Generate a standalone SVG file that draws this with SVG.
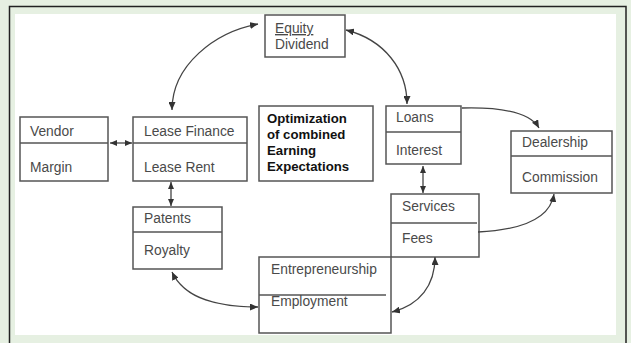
<svg xmlns="http://www.w3.org/2000/svg" width="631" height="343" viewBox="0 0 631 343">
<defs>
<style>
.box{fill:#fff;stroke:#555;stroke-width:1.5}
.div{stroke:#555;stroke-width:1.5}
.lbl{font-family:"Liberation Sans",Arial,sans-serif;font-size:13.8px;fill:#4a4a4a}
.bold{font-family:"Liberation Sans",Arial,sans-serif;font-size:13.2px;font-weight:bold;fill:#111}
.con{fill:none;stroke:#444;stroke-width:1.3}
</style>
<marker id="ah" viewBox="0 0 8 7" refX="8" refY="3.5" markerWidth="8" markerHeight="7" markerUnits="userSpaceOnUse" orient="auto-start-reverse">
<path d="M0,0 L8,3.5 L0,7 z" fill="#333"/>
</marker>
<marker id="as" viewBox="0 0 7 6" refX="7" refY="3" markerWidth="7" markerHeight="6" markerUnits="userSpaceOnUse" orient="auto-start-reverse">
<path d="M0,0 L7,3 L0,6 z" fill="#333"/>
</marker>
</defs>
<rect x="0" y="0" width="631" height="343" fill="#e6f0e2"/>
<rect x="9.5" y="6.5" width="616.5" height="350" fill="none" stroke="#222" stroke-width="1.5"/>
<rect x="15" y="14" width="601" height="321" fill="#fff"/>

<g id="equity">
<rect class="box" x="265" y="15" width="80" height="42"/>
<text class="lbl" x="275" y="33" text-decoration="underline">Equity</text>
<text class="lbl" x="275" y="49">Dividend</text>
</g>
<g id="vendor">
<rect class="box" x="20" y="117" width="88" height="64"/>
<line class="div" x1="20" y1="143" x2="108" y2="143"/>
<text class="lbl" x="30" y="136">Vendor</text>
<text class="lbl" x="30" y="172">Margin</text>
</g>
<g id="lease">
<rect class="box" x="133" y="117" width="114" height="64"/>
<line class="div" x1="133" y1="143" x2="247" y2="143"/>
<text class="lbl" x="144" y="136">Lease Finance</text>
<text class="lbl" x="144" y="172">Lease Rent</text>
</g>
<g id="optimization">
<rect class="box" x="259" y="106" width="114" height="75"/>
<text class="bold" x="267" y="123">Optimization</text>
<text class="bold" x="267" y="139">of combined</text>
<text class="bold" x="267" y="155">Earning</text>
<text class="bold" x="267" y="171">Expectations</text>
</g>
<g id="loans">
<rect class="box" x="386" y="106" width="75" height="58"/>
<line class="div" x1="386" y1="132" x2="461" y2="132"/>
<text class="lbl" x="396" y="122">Loans</text>
<text class="lbl" x="396" y="155">Interest</text>
</g>
<g id="dealership">
<rect class="box" x="511" y="131" width="101" height="62"/>
<line class="div" x1="511" y1="156" x2="612" y2="156"/>
<text class="lbl" x="522" y="147">Dealership</text>
<text class="lbl" x="522" y="182">Commission</text>
</g>
<g id="patents">
<rect class="box" x="133" y="207" width="89" height="62"/>
<line class="div" x1="133" y1="232" x2="222" y2="232"/>
<text class="lbl" x="144" y="223">Patents</text>
<text class="lbl" x="144" y="255">Royalty</text>
</g>
<g id="services">
<rect class="box" x="391" y="194" width="88" height="63"/>
<line class="div" x1="391" y1="223" x2="477" y2="223"/>
<text class="lbl" x="402" y="211">Services</text>
<text class="lbl" x="402" y="243">Fees</text>
</g>
<g id="entrepreneurship">
<rect class="box" x="259" y="257" width="132" height="76"/>
<line class="div" x1="259" y1="295" x2="386" y2="295"/>
<text class="lbl" x="271" y="274">Entrepreneurship</text>
<text class="lbl" x="271" y="306">Employment</text>
</g>

<g id="connectors">
<path class="con" d="M258,24 C215,32 172,65 172,110" marker-start="url(#ah)" marker-end="url(#ah)"/>
<path class="con" d="M346,30 C385,40 407,70 407,104" marker-start="url(#ah)" marker-end="url(#ah)"/>
<path class="con" d="M462,108 C500,107 530,112 539,128" marker-end="url(#ah)"/>
<path class="con" d="M478,232 C520,230 550,220 554,194" marker-end="url(#ah)"/>
<path class="con" d="M172,272 C185,300 220,307 258,307" marker-start="url(#ah)" marker-end="url(#ah)"/>
<path class="con" d="M392,312 C420,305 435,285 435,257" marker-start="url(#ah)" marker-end="url(#ah)"/>
<path class="con" d="M110,143 L132,143" marker-start="url(#as)" marker-end="url(#as)"/>
<path class="con" d="M171,182 L171,206" marker-start="url(#as)" marker-end="url(#as)"/>
<path class="con" d="M423,166 L423,193" marker-start="url(#as)" marker-end="url(#as)"/>
</g>
</svg>
